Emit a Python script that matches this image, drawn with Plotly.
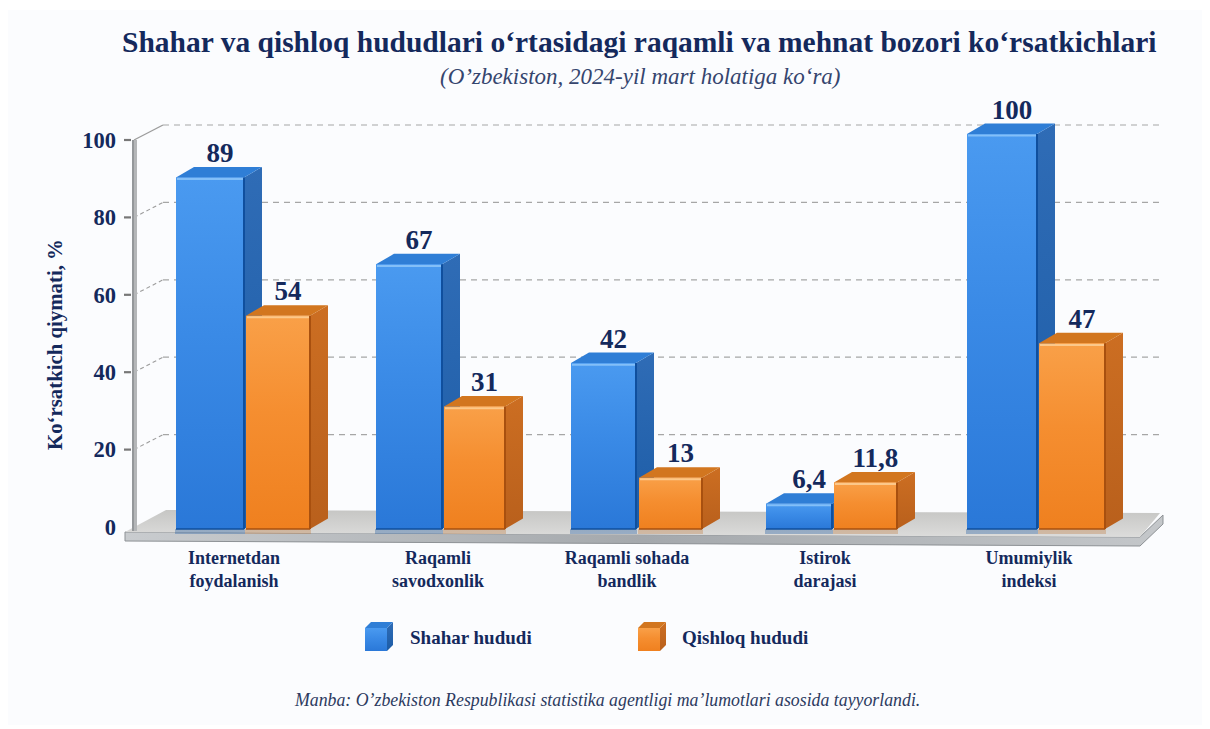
import plotly.graph_objects as go

# ---------- data ----------
categories = ["Internetdan<br>foydalanish", "Raqamli<br>savodxonlik", "Raqamli sohada<br>bandlik",
              "Istirok<br>darajasi", "Umumiylik<br>indeksi"]
shahar = [89, 67, 42, 6.4, 100]
qishloq = [54, 31, 13, 11.8, 47]
y_ticks = [0, 20, 40, 60, 80, 100]
series_names = ["Shahar hududi", "Qishloq hududi"]

TITLE = "Shahar va qishloq hududlari o‘rtasidagi raqamli va mehnat bozori ko‘rsatkichlari"
SUBTITLE = "(O’zbekiston, 2024-yil mart holatiga ko‘ra)"
Y_TITLE = "Ko‘rsatkich qiymati, %"
SOURCE = "Manba: O’zbekiston Respublikasi statistika agentligi ma’lumotlari asosida tayyorlandi."

# ---------- layout geometry (page pixels; the page body adds an 8px margin) ----------
PAGE_W, PAGE_H, BODY = 1210, 729, 8
W, H = PAGE_W - BODY, PAGE_H - BODY
AX_SCALE, AX_BASE = 3.87, 527      # tick axis
BAR_SCALE, BAR_BASE = 3.95, 529    # bar axis
blue_left = [176, 376, 571, 766, 967]
blue_w = [68, 66, 65, 66, 70]
orange_left = [246, 444, 639, 834, 1039]
orange_w = [64, 61, 63, 63, 66]
label_x = [234, 438, 627, 825, 1029]
DX, DY = 18, 10.5

NAVY = "#14295c"
SERIF = "Liberation Serif"
BLUE = dict(front=[[0, "#2a78d8"], [0.55, "#3a8ae6"], [1, "#4a9af0"]],
            side=[[0, "#1c5ca6"], [1, "#2f6cb6"]], top="#2f7ed6", hi="#83bff8",
            edge="#0f4f9e", base="#3585e2", shadow="rgba(30,90,160,0.35)")
ORANGE = dict(front=[[0, "#ef801f"], [0.55, "#f58e30"], [1, "#f9a048"]],
              side=[[0, "#b9601c"], [1, "#cc6e22"]], top="#d2761f", hi="#fcc88a",
              edge="#a8500f", base="#f58c2c", shadow="rgba(190,110,40,0.30)")


def ay(p):
    """page pixel -> value on the tick axis"""
    return (AX_BASE - p) / AX_SCALE


fig = go.Figure()


def poly(xs, ys, color=None, grad=None, gtype="vertical", yaxis="y", line=None):
    kw = dict(x=xs + xs[:1], y=ys + ys[:1], mode="lines", fill="toself", yaxis=yaxis,
              showlegend=False, hoverinfo="skip", line=line or dict(width=0))
    if grad:
        kw["fillgradient"] = dict(type=gtype, colorscale=grad)
    else:
        kw["fillcolor"] = color
    fig.add_trace(go.Scatter(**kw))


def seg(xs, ys, color, width, dash="solid", yaxis="y"):
    fig.add_trace(go.Scatter(x=xs, y=ys, mode="lines", yaxis=yaxis, showlegend=False, hoverinfo="skip",
                             line=dict(color=color, width=width, dash=dash)))


# ---------- back gridlines (shifted by the depth of the floor) ----------
GRID_DX, GRID_DY = 29, 15 / AX_SCALE
for v in y_ticks[1:]:
    seg([134, 134 + GRID_DX], [v, v + GRID_DY], "#9c9c9c", 1.4 if v == 100 else 1.1,
        "solid" if v == 100 else "4px,3px")
    seg([134 + GRID_DX, 1160], [v + GRID_DY, v + GRID_DY], "#a6a6a6", 1.2, "6px,5px")
    seg([124, 131], [v, v], "#777777", 2.2)

# ---------- floor ----------
poly([125, 1140, 1163, 1163, 1140, 125], [ay(532), ay(537), ay(515), ay(524), ay(546), ay(541)],
     grad=[[0, "#c9cccf"], [0.5, "#a4a8ac"], [1, "#c4c7ca"]], gtype="horizontal",
     line=dict(width=1, color="#8d9195"))
poly([125, 166, 1160, 1140], [ay(532), ay(510), ay(513), ay(537)],
     grad=[[0, "#dcdcdb"], [1, "#c6c6c4"]])
seg([133, 133], [ay(531), 100], "#94979a", 2)
seg([135.5, 135.5], [ay(531), 100], "#b4b6b8", 3)

# ---------- bars ----------
def draw_series(name, values, lefts, widths, st):
    centers = [l + w / 2 for l, w in zip(lefts, widths)]
    fig.add_trace(go.Bar(x=centers, y=values, width=widths, name=name, yaxis="y2", showlegend=False,
                         marker=dict(color=st["base"], line=dict(width=0))))
    dy = DY / BAR_SCALE
    for l, w, v in zip(lefts, widths, values):
        r = l + w
        poly([l - 1, r + 1, r + 1, l - 1], [0, 0, -5 / BAR_SCALE, -5 / BAR_SCALE], st["shadow"], yaxis="y2")
        poly([r, r + DX, r + DX, r], [v, v + dy, dy, 0], grad=st["side"], yaxis="y2")
        poly([l, l + DX, r + DX, r], [v, v + dy, v + dy, v], st["top"], yaxis="y2")
        poly([l, r, r, l], [0, 0, v, v], grad=st["front"], yaxis="y2")
        seg([l + 1, r - 1], [v - 0.4, v - 0.4], st["hi"], 2, yaxis="y2")
        seg([r, r], [0, v], st["edge"], 2, yaxis="y2")
        seg([l, r], [0, 0], st["edge"], 1.6, yaxis="y2")
    fig.add_trace(go.Scatter(x=[c + 10 for c in centers], y=[v + dy - 0.5 for v in values], yaxis="y2",
                             mode="text", text=[str(v).replace(".", ",") for v in values],
                             textposition="top center", showlegend=False, hoverinfo="skip",
                             textfont=dict(family=SERIF, size=27, color=NAVY, weight=700)))


draw_series(series_names[0], shahar, blue_left, blue_w, BLUE)
draw_series(series_names[1], qishloq, orange_left, orange_w, ORANGE)

# ---------- legend ----------
for x0, st in ((365, BLUE), (638, ORANGE)):
    poly([x0 + 22, x0 + 28, x0 + 28, x0 + 22], [ay(628), ay(622), ay(645), ay(651)], grad=st["side"])
    poly([x0, x0 + 6, x0 + 28, x0 + 22], [ay(628), ay(622), ay(622), ay(628)], st["top"])
    poly([x0, x0 + 22, x0 + 22, x0], [ay(651), ay(651), ay(628), ay(628)], grad=st["front"])

texts = [
    (TITLE, 639, 42, 29.5, 700, "normal", NAVY, 0, "center"),
    (SUBTITLE, 640, 77, 23, 400, "italic", "#35456e", 0, "center"),
    (Y_TITLE, 55, 345, 20.8, 700, "normal", NAVY, -90, "center"),
    (SOURCE, 607, 700, 17.8, 400, "italic", "#2c3a5e", 0, "center"),
    (series_names[0], 408, 637, 19, 700, "normal", NAVY, 0, "left"),
    (series_names[1], 680, 637, 19, 700, "normal", NAVY, 0, "left"),
]
annotations = [dict(text=t, x=(x - BODY) / W, y=1 - (y - BODY) / H, xref="paper", yref="paper", showarrow=False,
                    xanchor=anc, yanchor="middle", textangle=ang,
                    font=dict(family=SERIF, size=s, color=c, weight=wt, style=sty))
               for t, x, y, s, wt, sty, c, ang, anc in texts]

fig.update_layout(
    width=W, height=H, margin=dict(l=0, r=0, t=0, b=0), autosize=False,
    paper_bgcolor="#ffffff", plot_bgcolor="rgba(0,0,0,0)", barmode="overlay", showlegend=False,
    annotations=annotations,
    shapes=[dict(type="rect", xref="paper", yref="paper", x0=0, x1=(1202 - BODY) / W,
                 y0=1 - (725 - BODY) / H, y1=1 - (10 - BODY) / H,
                 fillcolor="#fbfcfe", line=dict(width=0), layer="below")],
    xaxis=dict(range=[BODY, PAGE_W], domain=[0, 1], anchor="free", position=1 - (545 - BODY) / H,
               showgrid=False, zeroline=False, showline=False, ticks="", tickmode="array",
               tickvals=label_x, ticktext=categories, tickangle=0,
               tickfont=dict(family=SERIF, size=18, color=NAVY, weight=700)),
    yaxis=dict(range=[ay(PAGE_H), ay(BODY)], domain=[0, 1], anchor="free", position=(116 - BODY) / W,
               showgrid=False, zeroline=False, showline=False, ticks="", tickmode="array", tickvals=y_ticks,
               tickfont=dict(family=SERIF, size=22.5, color=NAVY, weight=700)),
    yaxis2=dict(range=[(BAR_BASE - PAGE_H) / BAR_SCALE, (BAR_BASE - BODY) / BAR_SCALE], domain=[0, 1],
                overlaying="y", visible=False),
)

fig.write_html("out.html")
